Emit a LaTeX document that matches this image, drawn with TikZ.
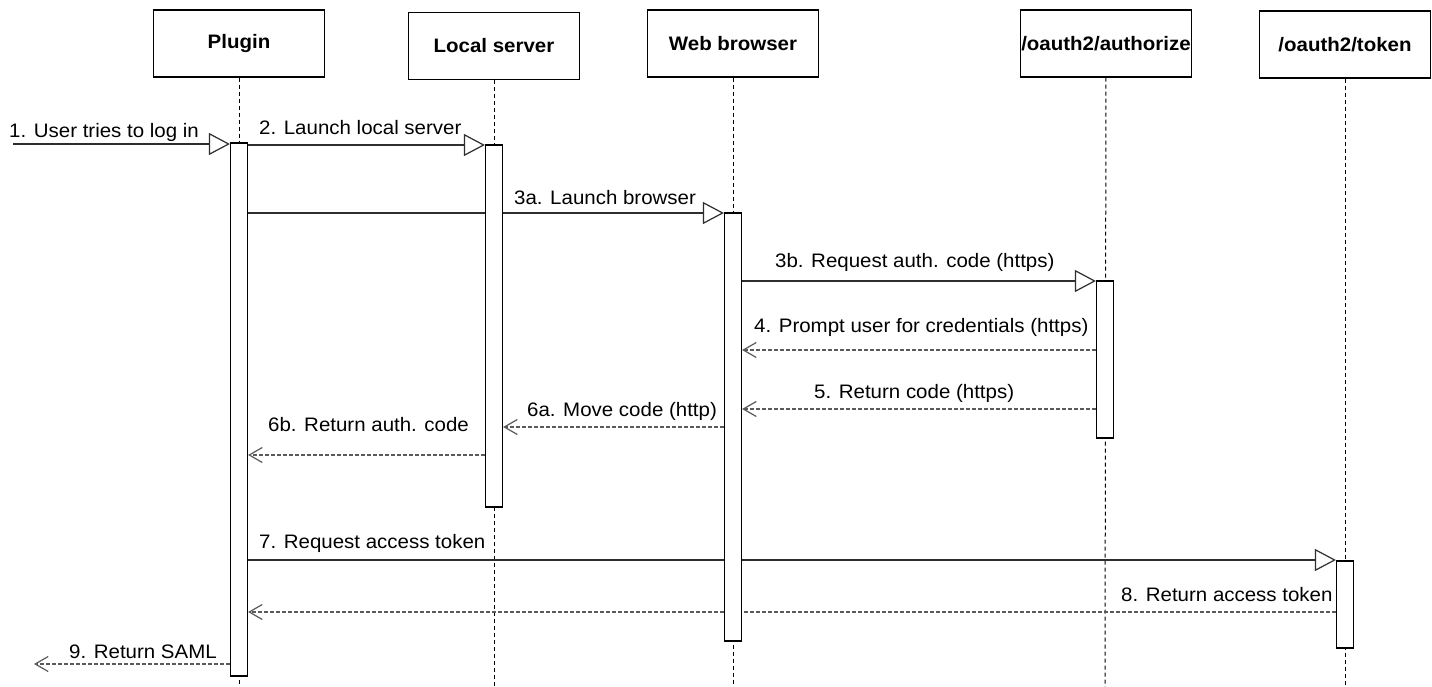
\documentclass[tikz,border=0pt]{standalone}
\usepackage{fontspec}
\setmainfont{Liberation Sans}[FakeStretch=1.05]
\usetikzlibrary{arrows.meta}
\pgfdeclarelayer{bg}
\pgfsetlayers{bg,main}
\definecolor{msgc}{HTML}{2E2E2E}
\definecolor{retc}{HTML}{5A5A5A}
\begin{document}
\begin{tikzpicture}[x=1pt,y=-1pt,
  head/.style={draw=black, line width=1.3pt, fill=white, minimum width=171pt, minimum height=67pt, inner sep=0pt, font=\fontsize{19.5}{22}\selectfont\bfseries},
  actbar/.style={draw=black, line width=1.2pt, fill=white, minimum width=17pt, inner sep=0pt},
  life/.style={draw=black, line width=1pt, dash pattern=on 4pt off 3pt},
  callmsg/.style={draw=msgc, line width=1.4pt, -{Triangle[length=21pt,width=22pt,fill=white,line width=1.2pt]}},
  retmsg/.style={draw=retc, line width=1.4pt, dash pattern=on 3.5pt off 2.5pt, -{Straight Barb[length=13pt,width=15pt,line width=1.2pt]}},
  lbl/.style={anchor=west, inner sep=0pt, font=\fontsize{19.5}{22}\selectfont}]
\useasboundingbox (0,0) rectangle (1432,687);
\begin{pgfonlayer}{bg}
  \fill[white] (0,0) rectangle (1432,687);
\end{pgfonlayer}

% headers
\node[head] (hplug) at (239,43.5) {Plugin};
\node[head] (hloc) at (494,46) {Local server};
\node[head] (hweb) at (733,43.5) {Web browser};
\node[head] (hauth) at (1106,43.5) {/oauth2/authorize};
\node[head] (htok) at (1345,44.5) {/oauth2/token};

% lifeline ends
\coordinate (eplug) at (239,687);
\coordinate (eloc) at (494,687);
\coordinate (eweb) at (733,687);
\coordinate (eauth) at (1105,687);
\coordinate (etok) at (1345,687);

% activation bars
\node[actbar, minimum height=533pt] (pbar) at (239,409.5) {};
\node[actbar, minimum height=362pt] (lbar) at (494,326) {};
\node[actbar, minimum height=428pt] (wbar) at (733,427) {};
\node[actbar, minimum height=157pt] (abar) at (1105,359.5) {};
\node[actbar, minimum height=87pt] (tbar) at (1345,604.5) {};

% message levels
\coordinate (y1) at (0,144);
\coordinate (y2) at (0,145);
\coordinate (y3a) at (0,213);
\coordinate (y3b) at (0,281);
\coordinate (y4) at (0,350);
\coordinate (y5) at (0,409);
\coordinate (y6a) at (0,427);
\coordinate (y6b) at (0,455);
\coordinate (y7) at (0,560);
\coordinate (y8) at (0,612);
\coordinate (y9) at (0,664);
\coordinate (m1s) at (13,144);
\coordinate (m9e) at (34,664);

\begin{pgfonlayer}{bg}
  \draw[life] (hplug) -- (eplug);
  \draw[life] (hloc) -- (eloc);
  \draw[life] (hweb) -- (eweb);
  \draw[life] (hauth) -- (eauth);
  \draw[life] (htok) -- (etok);

  \draw[callmsg] (m1s) -- (pbar.west |- y1);
  \draw[callmsg] (pbar.east |- y2) -- (lbar.west |- y2);
  \draw[callmsg] (pbar.east |- y3a) -- (wbar.west |- y3a);
  \draw[callmsg] (wbar.east |- y3b) -- (abar.west |- y3b);
  \draw[retmsg] (abar.west |- y4) -- (wbar.east |- y4);
  \draw[retmsg] (abar.west |- y5) -- (wbar.east |- y5);
  \draw[retmsg] (wbar.west |- y6a) -- (lbar.east |- y6a);
  \draw[retmsg] (lbar.west |- y6b) -- (pbar.east |- y6b);
  \draw[callmsg] (pbar.east |- y7) -- (tbar.west |- y7);
  \draw[retmsg] (tbar.west |- y8) -- (pbar.east |- y8);
  \draw[retmsg] (pbar.west |- y9) -- (m9e);
\end{pgfonlayer}

% labels
\node[lbl] (l1) at (9,132) {1. User tries to log in};
\node[lbl] (l2) at (259,128) {2. Launch local server};
\node[lbl] (l3a) at (514,198) {3a. Launch browser};
\node[lbl] (l3b) at (775,262) {3b. Request auth. code (https)};
\node[lbl] (l4) at (754,327) {4. Prompt user for credentials (https)};
\node[lbl] (l5) at (814,393) {5. Return code (https)};
\node[lbl] (l6a) at (527,411) {6a. Move code (http)};
\node[lbl] (l6b) at (268,425) {6b. Return auth. code};
\node[lbl] (l7) at (259,543) {7. Request access token};
\node[lbl] (l8) at (1121,595) {8. Return access token};
\node[lbl] (l9) at (69,652) {9. Return SAML};
\end{tikzpicture}
\end{document}
